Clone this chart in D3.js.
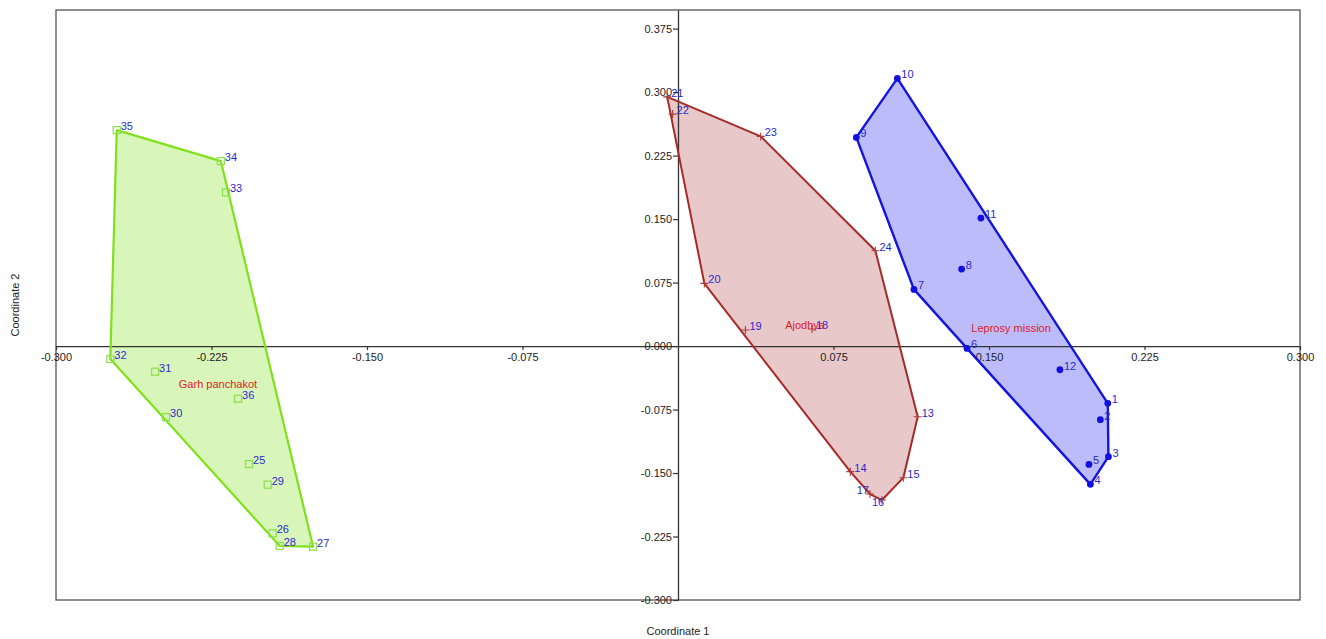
<!DOCTYPE html>
<html>
<head>
<meta charset="utf-8">
<script src="https://cdn.jsdelivr.net/npm/d3@7"></script>
<style>
  html, body { margin: 0; padding: 0; background: #fff; }
  svg { display: block; font-family: "Liberation Sans", Arial, sans-serif; }
</style>
</head>
<body>
<svg id="chart" width="1326" height="639"></svg>
<script>
// Site names
const groupNames = ["Leprosy mission", "Ajodhya", "Garh panchakot"];

// Leprosy mission samples
const leprosyIds = ["1", "2", "3", "4", "5", "6", "7", "8", "9", "10", "11", "12"];
const leprosyX = [0.2073, 0.2037, 0.2076, 0.1989, 0.1982, 0.1394, 0.1138, 0.1368, 0.0860, 0.1058, 0.1461, 0.1842];
const leprosyY = [-0.0677, -0.0870, -0.1307, -0.1634, -0.1398, -0.0028, 0.0669, 0.0909, 0.2465, 0.3162, 0.1512, -0.0280];

// Ajodhya samples
const ajodhyaIds = ["13", "14", "15", "16", "17", "18", "19", "20", "21", "22", "23", "24"];
const ajodhyaX = [0.1156, 0.0831, 0.1087, 0.0984, 0.0926, 0.0646, 0.0325, 0.0127, -0.0052, -0.0026, 0.0399, 0.0952];
const ajodhyaY = [-0.0835, -0.1484, -0.1555, -0.1819, -0.1748, 0.0201, 0.0189, 0.0740, 0.2944, 0.2740, 0.2477, 0.1126];

// Garh panchakot samples
const garhIds = ["25", "26", "27", "28", "29", "30", "31", "32", "33", "34", "35", "36"];
const garhX = [-0.2069, -0.1955, -0.1760, -0.1921, -0.1979, -0.2469, -0.2522, -0.2738, -0.2180, -0.2205, -0.2707, -0.2122];
const garhY = [-0.1394, -0.2212, -0.2370, -0.2362, -0.1638, -0.0839, -0.0303, -0.0154, 0.1815, 0.2185, 0.2551, -0.0622];

// Axis ticks
const xTicks = [-0.300, -0.225, -0.150, -0.075, 0.075, 0.150, 0.225, 0.300];
const yTicks = [-0.300, -0.225, -0.150, -0.075, 0.000, 0.075, 0.150, 0.225, 0.300, 0.375];
const xTitle = "Coordinate 1";
const yTitle = "Coordinate 2";

const groups = [
  { name: groupNames[0], ids: leprosyIds, xs: leprosyX, ys: leprosyY,
    stroke: "#1414dc", fill: "rgba(10,16,235,0.28)", marker: "dot", markColor: "#1010e0", lineW: 2.4 },
  { name: groupNames[1], ids: ajodhyaIds, xs: ajodhyaX, ys: ajodhyaY,
    stroke: "#a52a2a", fill: "rgba(165,42,42,0.26)", marker: "plus", markColor: "#b03a3a", lineW: 2 },
  { name: groupNames[2], ids: garhIds, xs: garhX, ys: garhY,
    stroke: "#80e01c", fill: "rgba(128,224,28,0.30)", marker: "square", markColor: "#8ee050", lineW: 2.2 }
];

const svg = d3.select("#chart");
const plotLeft = 56, plotRight = 1300, plotTop = 10, plotBottom = 600;

const x = d3.scaleLinear().domain([-0.3, 0.3]).range([plotLeft, plotRight]);
const y = d3.scaleLinear().domain([-0.3, 0.397]).range([plotBottom, plotTop]);

const fmt = d => d.toFixed(3);

// Hull fills
groups.forEach(g => {
  g.pts = g.ids.map((id, i) => ({ id, px: x(g.xs[i]), py: y(g.ys[i]) }));
  g.hull = d3.polygonHull(g.pts.map(p => [p.px, p.py]));
  svg.append("path")
    .attr("d", "M" + g.hull.join("L") + "Z")
    .attr("fill", g.fill)
    .attr("stroke", "none");
});

// Frame
svg.append("rect")
  .attr("x", plotLeft).attr("y", plotTop)
  .attr("width", plotRight - plotLeft).attr("height", plotBottom - plotTop)
  .attr("fill", "none").attr("stroke", "#444").attr("stroke-width", 1.2);

// Axes crossing at the origin
const xAxis = svg.append("g")
  .attr("transform", `translate(0,${y(0)})`)
  .call(d3.axisBottom(x).tickValues(xTicks).tickFormat(fmt).tickSize(4).tickSizeOuter(0).tickPadding(3));
const yAxis = svg.append("g")
  .attr("transform", `translate(${x(0)},0)`)
  .call(d3.axisLeft(y).tickValues(yTicks).tickFormat(fmt).tickSize(5).tickSizeOuter(0).tickPadding(1));

[xAxis, yAxis].forEach(a => {
  a.select(".domain").attr("stroke", "#333").attr("stroke-width", 1.3);
  a.selectAll(".tick line").attr("stroke", "#333").attr("stroke-width", 1.2);
  a.selectAll(".tick text").attr("fill", "#222").attr("font-size", 11)
    .attr("font-family", "'Liberation Sans', Arial, sans-serif");
});

// Hull outlines
groups.forEach(g => {
  svg.append("path")
    .attr("d", "M" + g.hull.join("L") + "Z")
    .attr("fill", "none")
    .attr("stroke", g.stroke)
    .attr("stroke-width", g.lineW)
    .attr("stroke-linejoin", "round");
});

// Markers and sample numbers
groups.forEach(g => {
  const layer = svg.append("g");
  g.pts.forEach(p => {
    if (g.marker === "dot") {
      layer.append("circle").attr("cx", p.px).attr("cy", p.py).attr("r", 3.4).attr("fill", g.markColor);
    } else if (g.marker === "plus") {
      layer.append("path")
        .attr("d", `M${p.px - 4},${p.py}H${p.px + 4}M${p.px},${p.py - 4}V${p.py + 4}`)
        .attr("stroke", g.markColor).attr("stroke-width", 1.1).attr("fill", "none");
    } else {
      layer.append("rect")
        .attr("x", p.px - 3.5).attr("y", p.py - 3.5).attr("width", 7).attr("height", 7)
        .attr("fill", "none").attr("stroke", g.markColor).attr("stroke-width", 1.3);
    }
  });
  g.pts.forEach(p => {
    // crowded pair at the bottom of the Ajodhya hull: one number set to the left, one just below
    let lx = p.px + 4, ly = p.py - 4, anchor = "start";
    if (p.id === "17") { lx = p.px - 1; anchor = "end"; }
    if (p.id === "16") { lx = p.px - 4; ly = p.py + 2; anchor = "middle"; }
    layer.append("text")
      .attr("x", lx)
      .attr("y", ly)
      .attr("dy", "0.35em")
      .attr("text-anchor", anchor)
      .attr("font-size", 11)
      .attr("fill", "#2a2acc")
      .text(p.id);
  });
});

// Group names at the group centroids
groups.forEach(g => {
  svg.append("text")
    .attr("x", x(d3.mean(g.xs)))
    .attr("y", y(d3.mean(g.ys)))
    .attr("dy", "0.35em")
    .attr("text-anchor", "middle")
    .attr("font-size", 11)
    .attr("fill", "#e0202a")
    .text(g.name);
});

// Axis titles
svg.append("text")
  .attr("x", x(0)).attr("y", 631)
  .attr("dy", "0.35em")
  .attr("text-anchor", "middle")
  .attr("font-size", 11)
  .attr("fill", "#222")
  .text(xTitle);
svg.append("text")
  .attr("transform", `translate(15,${(plotTop + plotBottom) / 2}) rotate(-90)`)
  .attr("dy", "0.35em")
  .attr("text-anchor", "middle")
  .attr("font-size", 11)
  .attr("fill", "#222")
  .text(yTitle);
</script>
</body>
</html>
